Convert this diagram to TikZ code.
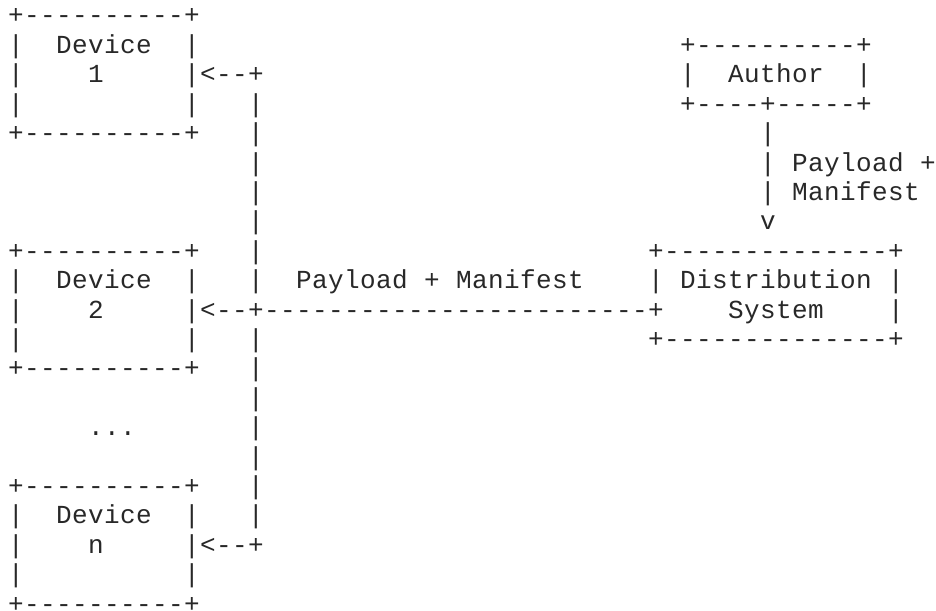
\documentclass[tikz,border=0pt]{standalone}
\usepackage{fontspec}
\setmonofont{Liberation Mono}
\ExplSyntaxOn
\NewDocumentCommand\asc{m}{ \tl_map_inline:nn {#1} { \makebox[16pt][c]{##1} } }
\ExplSyntaxOff
\newcommand\asciifont{\ttfamily\fontsize{26pt}{29.4pt}\selectfont}
\definecolor{ink}{RGB}{40,40,40}
\begin{document}
\begin{tikzpicture}[x=1pt,y=-1pt,
  cell/.style={anchor=base west, inner sep=0pt, outer sep=0pt, font=\asciifont, text=ink}]
\useasboundingbox (0,0) rectangle (936,610);
\newcommand\at[4]{\node[cell] (#1) at ({8+16*#2},{24+29.4*#3}) {\asc{#4}};}
% Device 1
\at{dA0}{0}{0}{+----------+}
\at{dA1}{0}{1}{|~~Device~~|}
\at{dA2}{0}{2}{|~~~~1~~~~~|<--+}
\at{dA3}{0}{3}{|~~~~~~~~~~|~~~|}
\at{dA4}{0}{4}{+----------+~~~|}
% Author
\at{au1}{42}{1}{+----------+}
\at{au2}{42}{2}{|~~Author~~|}
\at{au3}{42}{3}{+----+-----+}
\at{au4}{47}{4}{|}
\at{au5}{47}{5}{|~Payload~+}
\at{au6}{47}{6}{|~Manifest}
\at{au7}{47}{7}{v}
% trunk
\at{t5}{15}{5}{|}
\at{t6}{15}{6}{|}
\at{t7}{15}{7}{|}
% Device 2 and Distribution System
\at{dB8}{0}{8}{+----------+~~~|}
\at{ds8}{40}{8}{+--------------+}
\at{dB9}{0}{9}{|~~Device~~|~~~|}
\at{lbl}{18}{9}{Payload~+~Manifest}
\at{ds9}{40}{9}{|~Distribution~|}
\at{dB10}{0}{10}{|~~~~2~~~~~|<--+------------------------+~~~~System~~~~|}
\at{dB11}{0}{11}{|~~~~~~~~~~|~~~|}
\at{ds11}{40}{11}{+--------------+}
\at{dB12}{0}{12}{+----------+~~~|}
% gap
\at{t13}{15}{13}{|}
\at{dots}{5}{14}{...}
\at{t14}{15}{14}{|}
\at{t15}{15}{15}{|}
% Device n
\at{dN16}{0}{16}{+----------+~~~|}
\at{dN17}{0}{17}{|~~Device~~|~~~|}
\at{dN18}{0}{18}{|~~~~n~~~~~|<--+}
\at{dN19}{0}{19}{|~~~~~~~~~~|}
\at{dN20}{0}{20}{+----------+}
\end{tikzpicture}
\end{document}
